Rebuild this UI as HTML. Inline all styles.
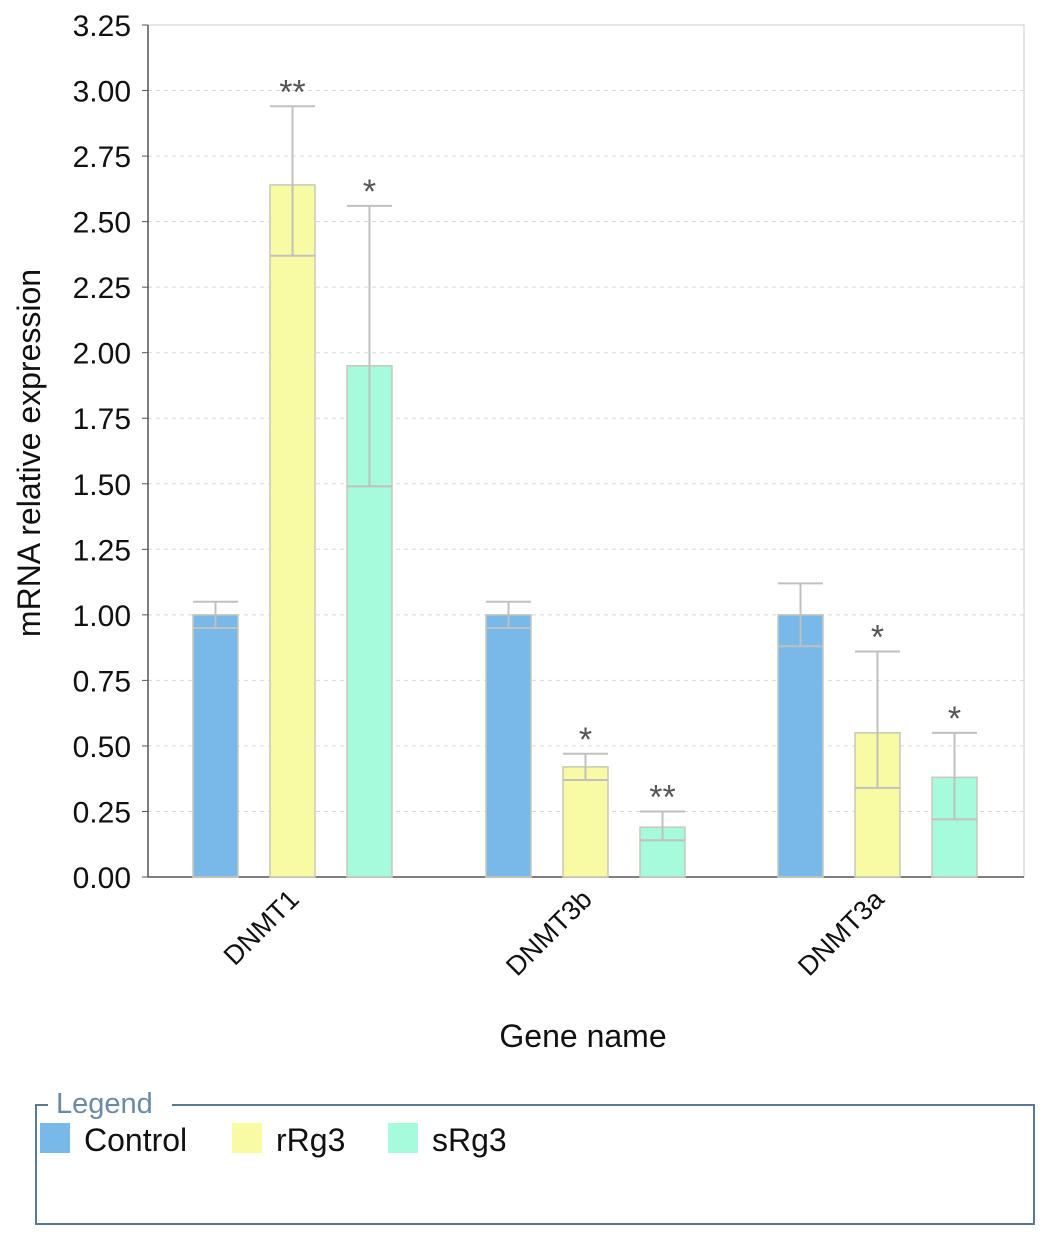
<!DOCTYPE html>
<html><head><meta charset="utf-8"><style>
html,body{margin:0;padding:0;background:#fff;}
svg{display:block;font-family:"Liberation Sans",sans-serif;}
</style></head><body>
<svg id="c" width="1049" height="1239" viewBox="0 0 1049 1239"></svg>
<script>
const categories = ["DNMT1","DNMT3b","DNMT3a"];
const seriesNames = ["Control","rRg3","sRg3"];
const controlVals = [1.0, 1.0, 1.0];
const rRg3Vals = [2.64, 0.42, 0.55];
const sRg3Vals = [1.95, 0.19, 0.38];
const controlErrUp = [0.05, 0.05, 0.12];
const controlErrDown = [0.05, 0.05, 0.12];
const rRg3ErrUp = [0.30, 0.05, 0.31];
const rRg3ErrDown = [0.27, 0.05, 0.21];
const sRg3ErrUp = [0.61, 0.06, 0.17];
const sRg3ErrDown = [0.46, 0.05, 0.16];
const rRg3Sig = ["**","*","*"];
const sRg3Sig = ["*","**","*"];
const controlSig = ["","",""];
const yTicks = [0,0.25,0.5,0.75,1,1.25,1.5,1.75,2,2.25,2.5,2.75,3,3.25];

const colors = ["#78b9ea","#f9fba4","#a6fbdc"];
const vals = [controlVals, rRg3Vals, sRg3Vals];
const errsUp = [controlErrUp, rRg3ErrUp, sRg3ErrUp];
const errsDown = [controlErrDown, rRg3ErrDown, sRg3ErrDown];
const sigs = [controlSig, rRg3Sig, sRg3Sig];
const NS = "http://www.w3.org/2000/svg";
const svg = document.getElementById("c");
const L=148, R=1024, T=25, B=877;
const y = v => B - (v/3.25)*(B-T);
const groupStart = [193, 486, 778];
const barStep = 77, barW = 45;
const x = (g,s) => groupStart[g] + s*barStep;
function mk(tag, attrs, parent){const e=document.createElementNS(NS,tag);for(const k in attrs)e.setAttribute(k,attrs[k]);(parent||svg).appendChild(e);return e;}

const plot = mk("rect",{x:L,y:T,width:R-L,height:B-T,fill:"#fff",stroke:"#ccc","stroke-width":1});



yTicks.forEach(t=>{
  if(t>0 && t<3.25){
    const g = mk("line",{x1:L,x2:R,y1:y(t),y2:y(t),stroke:"#d8d8d8","stroke-dasharray":"4,4"});
    
    
  }
  const tk = mk("line",{x1:L-6,x2:L,y1:y(t),y2:y(t),stroke:"#555"});
  
  
  const lb = mk("text",{x:L-17,y:y(t)+11,"text-anchor":"end","font-size":"30",fill:"#111"});
  lb.textContent = t.toFixed(2);
  
  
});
const ax = mk("line",{x1:L,x2:L,y1:T,y2:B,stroke:"#555","stroke-width":1.5});


const xa = mk("line",{x1:L,x2:R,y1:B,y2:B,stroke:"#555","stroke-width":1.5});



categories.forEach((c,g)=>{
  for(let s=0;s<3;s++){
    const v=vals[s][g], eu=errsUp[s][g], ed=errsDown[s][g], bx=x(g,s);
    const b = mk("rect",{x:bx,y:y(v),width:barW,height:B-y(v),fill:colors[s],stroke:"#c8c8b8","stroke-width":1.5});
    
    
    const cx=bx+barW/2;
    const el = mk("line",{x1:cx,x2:cx,y1:y(v+eu),y2:y(v-ed),stroke:"#c0c0c0","stroke-width":2});
    
    
    [v+eu,v-ed].forEach(w=>{
      const cap = mk("line",{x1:bx,x2:bx+barW,y1:y(w),y2:y(w),stroke:"#c0c0c0","stroke-width":2});
      
      
    });
    if(sigs[s][g]){
      const st = mk("text",{x:cx,y:y(v+eu)-3,"text-anchor":"middle","font-size":"34",fill:"#555"});
      st.textContent = sigs[s][g];
      
      
    }
  }
  const lx = x(g,1)+barW/2;
  const cl = mk("text",{x:lx+8,y:B+24,"text-anchor":"end","font-size":"27",fill:"#111",transform:`rotate(-45 ${lx+8} ${B+24})`});
  cl.textContent = c;
  
  
});

const yt = mk("text",{x:40,y:453,"text-anchor":"middle","font-size":"32",fill:"#111",transform:"rotate(-90 40 453)"});
yt.textContent = "mRNA relative expression";


const xt = mk("text",{x:583,y:1047,"text-anchor":"middle","font-size":"32",fill:"#111"});
xt.textContent = "Gene name";



const lg = mk("path",{d:"M48 1105 H36 V1224 H1034 V1105 H172",fill:"none",stroke:"#5a7890","stroke-width":2});


const lgt = mk("text",{x:56,y:1113,"font-size":"29",fill:"#6b8aa6"});
lgt.textContent = "Legend";


const lgx = [40, 232, 388];
seriesNames.forEach((n,i)=>{
  const sw = mk("rect",{x:lgx[i],y:1123,width:30,height:30,fill:colors[i]});
  
  
  const tx = mk("text",{x:lgx[i]+44,y:1151,"font-size":"32",fill:"#111"});
  tx.textContent = n;
  
  
});
</script>
</body></html>
